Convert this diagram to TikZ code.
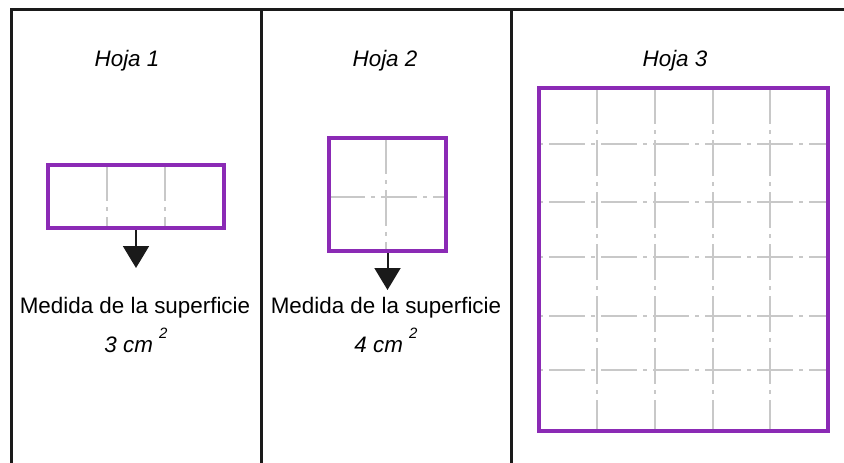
\documentclass[tikz,border=0pt]{standalone}
\usepackage{fontspec}
\setmainfont{Liberation Sans}
\usetikzlibrary{arrows.meta}
\definecolor{hojapurple}{RGB}{139,42,181}
\definecolor{foldgray}{RGB}{200,200,200}
\definecolor{framedark}{RGB}{26,26,26}
\newcommand{\sqsup}{\raisebox{14pt}{\fontsize{15}{15}\selectfont 2}}
\tikzset{
  sheet/.style={draw=hojapurple,line width=4pt,inner sep=0pt,fill=none},
  fold/.style={draw=foldgray,line width=1.8pt,dash pattern=on 36pt off 6pt on 4pt off 6pt},
  drop/.style={draw=framedark,line width=2pt,-{Triangle[width=26pt,length=22pt]}},
  label/.style={anchor=base,inner sep=0pt,font=\fontsize{22.4}{26}\selectfont},
}
\begin{document}
\begin{tikzpicture}[x=1pt,y=-1pt]
\useasboundingbox (0,0) rectangle (844,463);
\draw[framedark,line width=3pt] (11,463) -- (11,9) -- (844,9);
\draw[framedark,line width=3pt] (261,9) -- (261,463) (511,9) -- (511,463);
\node[label] (hoja1) at (127,66) {\itshape Hoja 1};
\node[label] (hoja2) at (385,66) {\itshape Hoja 2};
\node[label] (hoja3) at (675,66) {\itshape Hoja 3};
\foreach \x in {107,165} \draw[fold,dash phase=0pt] (\x,165) -- (\x,228);
\node[sheet,minimum width=176pt,minimum height=63pt] (r1) at (136,196.5) {};
\draw[fold] (386,138) -- (386,251) (329,197) -- (446,197);
\node[sheet,minimum width=117pt,minimum height=113pt] (r2) at (387.5,194.5) {};
\foreach \x in {597,655,713,770} \draw[fold] (\x,88) -- (\x,431);
\foreach \y in {144,202,257,316,370} \draw[fold,dash phase=-10pt] (539,\y) -- (828,\y);
\node[sheet,minimum width=289pt,minimum height=343pt] (r3) at (683.5,259.5) {};
\coordinate (tip1) at (136,268);
\coordinate (tip2) at (387.5,290);
\draw[drop] (r1.south) -- (tip1);
\draw[drop] (r2.south) -- (tip2);
\node[label] (med1) at (135,313) {Medida de la superficie};
\node[label] (cm1) at (136,352) {\itshape 3 cm \sqsup};
\node[label] (med2) at (386,313) {Medida de la superficie};
\node[label] (cm2) at (386,352) {\itshape 4 cm \sqsup};
\end{tikzpicture}
\end{document}
